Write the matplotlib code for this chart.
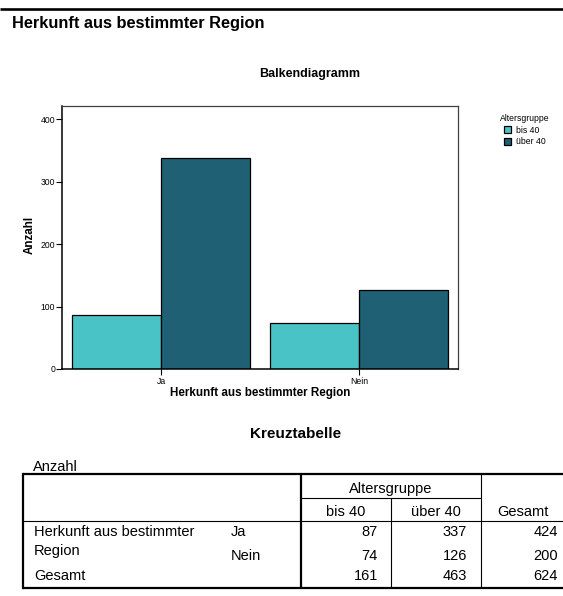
import matplotlib
matplotlib.use("Agg")
import matplotlib.pyplot as plt
import numpy as np

# ---- data ----
categories = ["Ja", "Nein"]
groups = ["bis 40", "über 40"]
bis40 = [87, 74]
ueber40 = [337, 126]
yticks = [0, 100, 200, 300, 400]
row_labels = ["Herkunft aus bestimmter\nRegion", "Gesamt"]
table_rows = ["Ja", "Nein"]
tab_bis40 = [87, 74, 161]
tab_ueber40 = [337, 126, 463]
tab_gesamt = [424, 200, 624]

colors = ["#4AC3C6", "#1F6075"]

W, H = 563, 596
fig = plt.figure(figsize=(W / 100, H / 100), dpi=100)
plt.rcParams['font.family'] = ['Liberation Sans', 'DejaVu Sans']

def fx(x):
    return x / W

def fy(y):
    return 1 - y / H

# overlay axes in pixel coordinates for text/table
ov = fig.add_axes([0, 0, 1, 1])
ov.set_xlim(0, W)
ov.set_ylim(H, 0)
ov.axis("off")

# top rule and heading
ov.plot([0, W], [9, 9], color="black", lw=1.9, solid_capstyle="butt")
ov.text(12, 28, "Herkunft aus bestimmter Region", fontsize=11.8, fontweight="bold",
        va="baseline", ha="left")

# ---- bar chart ----
left, right, top, bottom = 62, 458, 106, 369
ax = fig.add_axes([fx(left), fy(bottom), fx(right - left), (bottom - top) / H])
x = np.arange(len(categories))
w = 0.45
ax.bar(x - w / 2, bis40, w, color=colors[0], edgecolor="black", linewidth=0.9, label=groups[0])
ax.bar(x + w / 2, ueber40, w, color=colors[1], edgecolor="black", linewidth=0.9, label=groups[1])
ax.set_xlim(-0.5, 1.5)
ax.set_ylim(0, 421)
ax.set_yticks(yticks)
ax.set_xticks(x)
ax.set_xticklabels(categories)
ax.tick_params(axis="both", labelsize=6.2, length=4, width=0.8, direction="out", colors="black")
ax.tick_params(axis="y", pad=1)
ax.tick_params(axis="x", pad=2)
for s in ["left", "bottom"]:
    ax.spines[s].set_linewidth(1.1)
    ax.spines[s].set_color("black")
for s in ["top", "right"]:
    ax.spines[s].set_linewidth(0.9)
    ax.spines[s].set_color("#404040")
ax.set_ylabel("Anzahl", fontsize=8.4, fontweight="bold")
ax.yaxis.set_label_coords(-(left - 35.5) / (right - left), 0.51)
ax.set_xlabel("Herkunft aus bestimmter Region", fontsize=8.4, fontweight="bold")
ax.xaxis.set_label_coords(0.5, -(387 - bottom) / (bottom - top))
ax.xaxis.label.set_va("top")

ov.text(310, 74, "Balkendiagramm", fontsize=9, fontweight="bold", ha="center", va="center")

leg = ax.legend(loc="upper left", bbox_to_anchor=(fx(494), fy(108)), bbox_transform=fig.transFigure,
                frameon=False, fontsize=6.2, title="Altersgruppe", title_fontsize=6.2,
                handlelength=0.85, handleheight=0.85, handletextpad=0.6, labelspacing=0.3,
                borderpad=0.2)
leg._legend_box.align = "center"

# ---- cross table ----
ov.text(296, 433.5, "Kreuztabelle", fontsize=11, fontweight="bold", ha="center", va="center")
fs = 10.5
ov.text(33, 467, "Anzahl", fontsize=fs, ha="left", va="center")

tl, tr, ttop, tbot = 23, W + 5, 474, 588
c1, c2, c3 = 301, 391, 481
sub_y, head_y = 497.7, 521
thick, thin = 1.6, 0.8
ov.plot([tl, tr], [ttop, ttop], color="black", lw=thick, solid_capstyle="butt")
ov.plot([tl, tr], [tbot, tbot], color="black", lw=thick, solid_capstyle="butt")
ov.plot([tl, tl], [ttop, tbot], color="black", lw=thick, solid_capstyle="projecting")
ov.plot([c1, c1], [ttop, tbot], color="black", lw=thick, solid_capstyle="butt")
ov.plot([c2, c2], [sub_y, tbot], color="black", lw=thin, solid_capstyle="butt")
ov.plot([c3, c3], [ttop, tbot], color="black", lw=thin, solid_capstyle="butt")
ov.plot([c1, c3], [sub_y, sub_y], color="black", lw=thin, solid_capstyle="butt")
ov.plot([tl, tr], [head_y, head_y], color="black", lw=thin, solid_capstyle="butt")

ov.text((c1 + c3) / 2, 489.5, "Altersgruppe", fontsize=fs, ha="center", va="center")
ov.text((c1 + c2) / 2, 511.5, groups[0], fontsize=fs, ha="center", va="center")
ov.text((c2 + c3) / 2, 511.5, groups[1], fontsize=fs, ha="center", va="center")
ov.text(523, 511.5, "Gesamt", fontsize=fs, ha="center", va="center")

row_y = [531.5, 555.5, 576.5]
ov.text(34, 531.5, row_labels[0].split("\n")[0], fontsize=fs, ha="left", va="center")
ov.text(34, 550.5, row_labels[0].split("\n")[1], fontsize=fs, ha="left", va="center")
ov.text(34, row_y[2], row_labels[1], fontsize=fs, ha="left", va="center")
for lab, yy in zip(table_rows, row_y[:2]):
    ov.text(231, yy, lab, fontsize=fs, ha="left", va="center")
for vals, xr in [(tab_bis40, 378), (tab_ueber40, 467), (tab_gesamt, 558)]:
    for v, yy in zip(vals, row_y):
        ov.text(xr, yy, str(v), fontsize=fs, ha="right", va="center")

fig.savefig("out.png", dpi=100)
